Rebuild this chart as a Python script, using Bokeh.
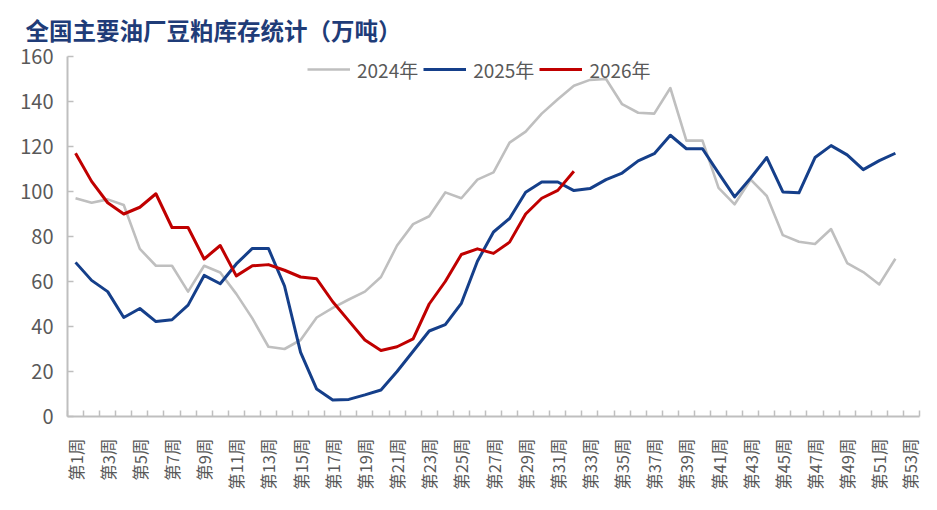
import math
from bokeh.plotting import figure
from bokeh.models import Range1d, FixedTicker, Legend, LegendItem, ColumnDataSource
from bokeh.embed import file_html
from bokeh.resources import INLINE

# ---- data ----
weeks = [f"第{i}周" for i in range(1, 54)]

s2024 = [97, 95, 96.5, 94, 74.5, 67, 67, 55.5, 67, 64,
         54.5, 43.6, 31, 30, 34, 44, 48.3, 52, 55.5, 62,
         76, 85.5, 89, 99.6, 97, 105.3, 108.5, 121.7, 126.6, 134.6,
         141, 147, 149.6, 150, 138.8, 135, 134.6, 146, 122.6, 122.6,
         101.6, 94.3, 105.3, 98, 80.6, 77.7, 76.7, 83.3, 68.2, 64.2,
         58.7, 70.1]
s2025 = [68.5, 60.5, 55.5, 44, 48, 42.2, 43, 49.5, 62.7, 59,
         67.8, 74.7, 74.7, 58, 28.5, 12.2, 7.3, 7.6, 9.6, 11.8,
         20, 29, 38, 40.8, 50.3, 69, 82, 88, 99.7, 104.2,
         104.2, 100.4, 101.3, 105.3, 108.2, 113.6, 116.8, 125, 119, 119,
         108.2, 97.6, 106, 115.1, 99.8, 99.4, 115.1, 120.4, 116.3, 109.7,
         113.7, 117]
s2026 = [117, 104.5, 95, 90, 93, 99, 84, 84, 70, 76,
         62.5, 67, 67.5, 65, 62, 61.2, 51, 42.5, 34, 29.3,
         31, 34.5, 50, 60, 72, 74.5, 72.5, 77.5, 90, 97,
         100.5, 109]

series_names = ["2024年", "2025年", "2026年"]
series_values = [s2024, s2025, s2026]
series_colors = ["#BFBFBF", "#153F8A", "#C00000"]
series_widths = [2.6, 3, 3]

y_ticks = [0, 20, 40, 60, 80, 100, 120, 140, 160]

FONT = "Noto Sans CJK SC"
AXIS_GRAY = "#BFBFBF"
TEXT_GRAY = "#595959"

p = figure(width=921, height=494, output_backend="svg", toolbar_location=None,
           x_range=Range1d(0.5, len(weeks) + 0.5), y_range=Range1d(y_ticks[0], y_ticks[-1]),
           min_border_left=67, min_border_right=2, min_border_top=52, min_border_bottom=78)
p.outline_line_color = None
p.grid.visible = False

p.title.text = "全国主要油厂豆粕库存统计（万吨）"
p.title.text_font = FONT
p.title.text_font_size = "23.5px"
p.title.text_font_style = "bold"
p.title.text_color = "#1F3C78"
p.title.align = "left"
p.title.offset = -42
p.title.standoff = 20

items = []
for name, vals, col, w in zip(series_names, series_values, series_colors, series_widths):
    src = ColumnDataSource(dict(x=list(range(1, len(vals) + 1)), y=vals))
    r = p.line("x", "y", source=src, line_color=col, line_width=w, line_join="round")
    items.append(LegendItem(label=name, renderers=[r]))

legend = Legend(items=items, orientation="horizontal", location=(240, 331),
                background_fill_alpha=0, border_line_alpha=0, padding=0, margin=0,
                spacing=5, label_standoff=7, glyph_width=43, glyph_height=32,
                label_height=32,
                label_text_font=FONT, label_text_font_size="19px",
                label_text_color=TEXT_GRAY, label_text_baseline="middle")
p.add_layout(legend)

# x axis
xa = p.xaxis[0]
xa.ticker = FixedTicker(ticks=list(range(1, len(weeks) + 1, 2)),
                        minor_ticks=[i + 0.5 for i in range(0, len(weeks) + 1)])
xa.major_label_overrides = {i + 1: weeks[i] for i in range(0, len(weeks), 2)}
xa.major_label_orientation = math.pi / 2
xa.major_tick_line_color = None
xa.minor_tick_in = 6
xa.minor_tick_out = 0
xa.minor_tick_line_color = AXIS_GRAY
xa.minor_tick_line_width = 1.5
xa.axis_line_color = AXIS_GRAY
xa.axis_line_width = 2
xa.major_label_text_font = FONT
xa.major_label_text_font_size = "16.5px"
xa.major_label_text_color = TEXT_GRAY
xa.major_label_standoff = 16

# y axis
ya = p.yaxis[0]
ya.ticker = FixedTicker(ticks=y_ticks, minor_ticks=[])
ya.major_tick_in = 6
ya.major_tick_out = 0
ya.major_tick_line_color = AXIS_GRAY
ya.major_tick_line_width = 1.5
ya.axis_line_color = AXIS_GRAY
ya.axis_line_width = 2
ya.major_label_text_font = FONT
ya.major_label_text_font_size = "20px"
ya.major_label_text_color = TEXT_GRAY
ya.major_label_standoff = 14

open("out.html", "w").write(file_html(p, INLINE))
